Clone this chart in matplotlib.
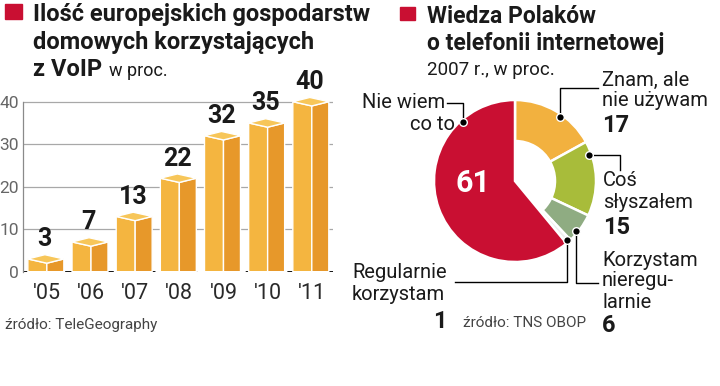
import matplotlib
matplotlib.use("Agg")
import matplotlib.pyplot as plt
from matplotlib.patches import Polygon, Rectangle
import numpy as np

# --- data -------------------------------------------------------------
years = ["'05", "'06", "'07", "'08", "'09", "'10", "'11"]
voip_share = [3, 7, 13, 22, 32, 35, 40]
y_ticks = [0, 10, 20, 30, 40]

pie_labels = ["Znam, ale nie używam", "Coś słyszałem", "Korzystam nieregularnie",
              "Regularnie korzystam", "Nie wiem co to"]
pie_values = [17, 15, 6, 1, 61]

# --- style ------------------------------------------------------------
RED = "#c90f32"
pie_colors = ["#f2b13f", "#a8bc3a", "#8fac82", "#eeeeee", RED]
FACE_L, FACE_R, FACE_T = "#f4b540", "#e7982a", "#f7c659"
TXT = "#1a1a1a"
FONT = "Roboto"

W, H = 720, 386
fig = plt.figure(figsize=(W / 100, H / 100), dpi=100)
plt.rcParams["font.family"] = [FONT, "DejaVu Sans"]

# bar chart axes (pixel box: x 23..333, y=0 at 271.7, 4.25 px per unit)
ax = fig.add_axes([23 / W, (H - 271.7) / H, 310 / W, 45 * 4.25 / H])
ax.set_xlim(-0.54, 6.48)
ax.set_ylim(0, 45)
for s in ax.spines.values():
    s.set_visible(False)
ax.spines["left"].set_visible(True)
ax.spines["left"].set_bounds(0, 40)
ax.spines["left"].set_color("#8a8a8a")
ax.spines["left"].set_linewidth(0.9)
ax.set_yticks(y_ticks)
ax.set_yticklabels([str(t) for t in y_ticks], color="#666666", fontsize=12.5)
ax.set_xticks(range(len(years)))
ax.set_xticklabels(years, fontsize=15.5, color="#2a2a2a")
ax.tick_params(axis="both", length=0)
ax.tick_params(axis="y", pad=3)
ax.tick_params(axis="x", pad=8)
for t in y_ticks[1:]:
    ax.axhline(t, color="#a8a8a8", lw=0.9, zorder=0)
ax.axhline(0, color="black", lw=2, dashes=(2.5, 2.5), zorder=0)

wl, wr, d = 0.43, 0.385, 1.0
for i, v in enumerate(voip_share):
    c = i
    left = [(c - wl, 0), (c, 0), (c, v - d), (c - wl, v)]
    right = [(c, 0), (c + wr, 0), (c + wr, v), (c, v - d)]
    top = [(c - wl, v), (c, v - d), (c + wr, v), (c - wl + wr, v + d)]
    for pts, col in ((left, FACE_L), (right, FACE_R), (top, FACE_T)):
        ax.add_patch(Polygon(pts, closed=True, facecolor=col, edgecolor="white",
                             lw=1, clip_on=False, zorder=3))
    ax.text(c - 0.05, v + 4.6, str(v), ha="center", va="center", fontsize=18,
            fontweight="bold", color=TXT, zorder=4)

# overlay axes in pixel coordinates (y measured from the bottom)
ov = fig.add_axes([0, 0, 1, 1], zorder=5)
ov.patch.set_alpha(0)


def Y(y):
    return H - y


def label(x, y, s, size=14.5, weight="normal", ha="left", color=TXT):
    ov.text(x, Y(y), s, fontsize=size, fontweight=weight, ha=ha, va="center", color=color)


# pie
cx, cy, R = 515, Y(181), 81
wedges, _ = ov.pie(pie_values, colors=pie_colors, startangle=90, counterclock=False,
                   center=(cx, cy), radius=R,
                   wedgeprops=dict(edgecolor="white", linewidth=1.8))
for w in wedges[:4]:
    w.set_width(41)
ov.set_xlim(0, W)
ov.set_ylim(0, H)
ov.set_aspect("auto")
ov.axis("off")

# titles
fig.patches.append(Rectangle((5 / W, 1 - 19 / H), 17 / W, 15 / H, color=RED,
                             transform=fig.transFigure, figure=fig))
fig.patches.append(Rectangle((400 / W, 1 - 20 / H), 15 / W, 13 / H, color=RED,
                             transform=fig.transFigure, figure=fig))
for txt, yb in (("Ilość europejskich gospodarstw", 20.7),
                ("domowych korzystających", 49.3),
                ("z VoIP", 76)):
    ov.text(33, Y(yb), txt, fontsize=17, fontweight="bold", va="baseline", color=TXT)
ov.text(109, Y(76), "w proc.", fontsize=13, va="baseline", color=TXT)
for txt, yb in (("Wiedza Polaków", 22.7), ("o telefonii internetowej", 50)):
    ov.text(427, Y(yb), txt, fontsize=16.5, fontweight="bold", va="baseline", color=TXT)
ov.text(427, Y(75), "2007 r., w proc.", fontsize=13.5, va="baseline", color=TXT)

# leader dots, position inside each wedge (fraction from theta1)
dot_frac = [0.43, 0.82, 0.34, 0.5, 0.19]
dots = []
for w, f in zip(wedges, dot_frac):
    th = np.deg2rad(w.theta1 + f * (w.theta2 - w.theta1))
    px, py = cx + 0.97 * R * np.cos(th), cy + 0.97 * R * np.sin(th)
    dots.append((px, py))
    ov.plot(px, py, "o", ms=5.5, color="black", mec="white", mew=1, zorder=6)

legs = [[(None, Y(88)), (598, Y(88))],
        [(620, None), (620, Y(170))],
        [(None, Y(283)), (598, Y(283))],
        [(None, Y(282)), (455, Y(282))],
        [(None, Y(103)), (447, Y(103))]]
for (px, py), pts in zip(dots, legs):
    xs, ys = [px], [py]
    for qx, qy in pts:
        xs.append(px if qx is None else qx)
        ys.append(py if qy is None else qy)
    ov.plot(xs, ys, color="black", lw=1, zorder=5)

# pie labels
label(602, 80, "Znam, ale")
label(602, 100, "nie używam")
label(602, 125, str(pie_values[0]), size=17, weight="bold")
label(603, 180, "Coś")
label(603, 202, "słyszałem")
label(603, 227, str(pie_values[1]), size=17, weight="bold")
label(602, 260, "Korzystam")
label(602, 281, "nieregu-")
label(602, 302, "larnie")
label(602, 325, str(pie_values[2]), size=17, weight="bold")
label(447, 273, "Regularnie", ha="right")
label(445, 295, "korzystam", ha="right")
label(447, 322, str(pie_values[3]), size=17, weight="bold", ha="right")
label(445, 102, "Nie wiem", ha="right")
label(455, 124, "co to", ha="right")
ov.text(473, Y(183), str(pie_values[4]), fontsize=22, fontweight="bold", color="white",
        ha="center", va="center", zorder=7)

label(463, 323, "źródło: TNS OBOP", size=11, color="#444444")
label(5, 325, "źródło: TeleGeography", size=11, color="#444444")

fig.savefig("out.png", dpi=100)
